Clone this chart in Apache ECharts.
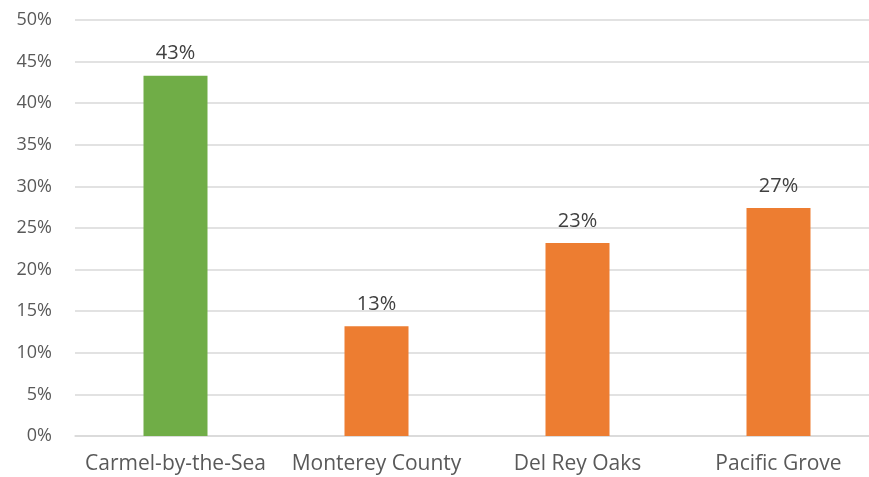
<!DOCTYPE html>
<html>
<head>
<meta charset="utf-8">
<script src="https://cdn.jsdelivr.net/npm/echarts@6/dist/echarts.min.js"></script>
<style>
  html, body { margin: 0; padding: 0; background: #fff; }
  #chart { width: 869px; height: 477px; }
</style>
</head>
<body>
<div id="chart"></div>
<script>
const categories = ['Carmel-by-the-Sea', 'Monterey County', 'Del Rey Oaks', 'Pacific Grove']
const shares = [43.3, 13.2, 23.2, 27.4]
const barColors = ['#70ad47', '#ed7d31', '#ed7d31', '#ed7d31']

const chart = echarts.init(document.getElementById('chart'))
const font = '"Open Sans", sans-serif'

chart.setOption({
  animation: false,
  grid: { left: 75, top: 20, width: 804, bottom: 41, outerBoundsMode: 'none' },
  xAxis: {
    type: 'category',
    data: categories,
    axisTick: { show: false },
    axisLine: { lineStyle: { color: '#d9d9d9', width: 1.5 } },
    axisLabel: { color: '#595959', fontSize: 21, fontFamily: font, margin: 18, interval: 0 },
  },
  yAxis: {
    type: 'value',
    min: 0,
    max: 50,
    interval: 5,
    axisLine: { show: false },
    axisTick: { show: false },
    splitLine: { lineStyle: { color: '#d9d9d9', width: 1.5 } },
    axisLabel: {
      color: '#595959',
      fontSize: 18,
      fontFamily: font,
      margin: 23,
      formatter: (v) => v + '%',
    },
  },
  series: [
    {
      type: 'bar',
      barWidth: 64,
      data: shares.map((value, i) => ({
        value,
        itemStyle: { color: barColors[i] },
      })),
      label: {
        show: true,
        position: 'top',
        distance: 12,
        color: '#404040',
        fontSize: 20,
        fontFamily: font,
        formatter: (p) => Math.round(p.value) + '%',
      },
    },
  ],
})
</script>
</body>
</html>
